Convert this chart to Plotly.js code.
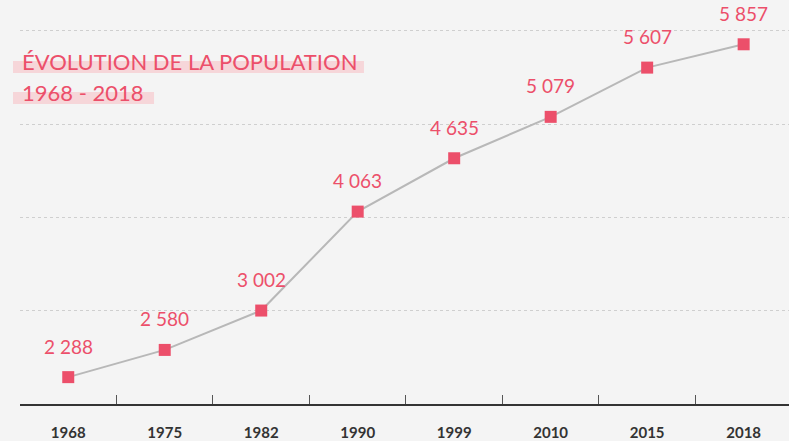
<!DOCTYPE html>
<html><head><meta charset="utf-8">
<script src="https://cdn.plot.ly/plotly-3.0.1.min.js"></script>
<style>html,body{margin:0;padding:0;background:#f4f4f4}</style>
</head><body><div id="chart" style="width:789px;height:441px"></div>
<script>
const years = ['1968','1975','1982','1990','1999','2010','2015','2018'];
const population = [2288, 2580, 3002, 4063, 4635, 5079, 5607, 5857];
const labels = ['2 288','2 580','3 002','4 063','4 635','5 079','5 607','5 857'];
const titleLine1 = 'ÉVOLUTION DE LA POPULATION';
const titleLine2 = '1968 - 2018';

const pink = '#ec4f6a';
const trace = {
  x: years, y: population, type: 'scatter', mode: 'lines+markers',
  line: {color: '#b8b8b8', width: 2},
  marker: {symbol: 'square', size: 12, color: pink},
  cliponaxis: false, hoverinfo: 'skip'
};
const annotations = years.map((yr, i) => ({
  x: i, y: population[i], xref: 'x', yref: 'y', text: labels[i],
  showarrow: false, yshift: 31, font: {family: 'Lato, Open Sans, sans-serif', size: 19, color: pink}
}));
annotations.push({xref:'paper', yref:'paper', x: 0.0005, y: 0.912, xanchor:'left', yanchor:'middle', text: titleLine1, showarrow:false, font:{family:'Lato, Open Sans, sans-serif', size:22, color: pink}});
annotations.push({xref:'paper', yref:'paper', x: 0.0005, y: 0.832, xanchor:'left', yanchor:'middle', text: titleLine2, showarrow:false, font:{family:'Lato, Open Sans, sans-serif', size:22, color: pink}});

const shapes = [
  {type:'rect', xref:'paper', yref:'paper', x0:-0.0091, x1:0.4473, y0:0.8827, y1:0.9147, fillcolor:'#f6d6d9', line:{width:0}, layer:'below'},
  {type:'rect', xref:'paper', yref:'paper', x0:-0.0091, x1:0.1743, y0:0.8000, y1:0.8320, fillcolor:'#f6d6d9', line:{width:0}, layer:'below'}
];

const layout = {
  width: 789, height: 441,
  margin: {l: 20, r: 0, t: 29, b: 37},
  paper_bgcolor: '#f4f4f4', plot_bgcolor: '#f4f4f4',
  showlegend: false,
  xaxis: {
    type: 'category', range: [-0.5, 7.47],
    showgrid: false, zeroline: false,
    showline: true, linecolor: '#333', linewidth: 1.5,
    ticks: 'inside', ticklen: 9, tickcolor: '#555', tickwidth: 1,
    tickson: 'boundaries',
    ticklabelstandoff: 14,
    tickfont: {family: 'Lato, Open Sans, sans-serif', size: 15, color: '#333', weight: 'bold'}
  },
  yaxis: {
    range: [2000, 6021], tickvals: [3000, 4000, 5000, 6000],
    showgrid: true, gridcolor: '#cfcfcf', griddash: 'dot', gridwidth: 1,
    zeroline: false, showline: false, showticklabels: false, ticks: ''
  },
  annotations: annotations,
  shapes: shapes
};
Plotly.newPlot('chart', [trace], layout, {displayModeBar: false, staticPlot: true});
</script></body></html>
